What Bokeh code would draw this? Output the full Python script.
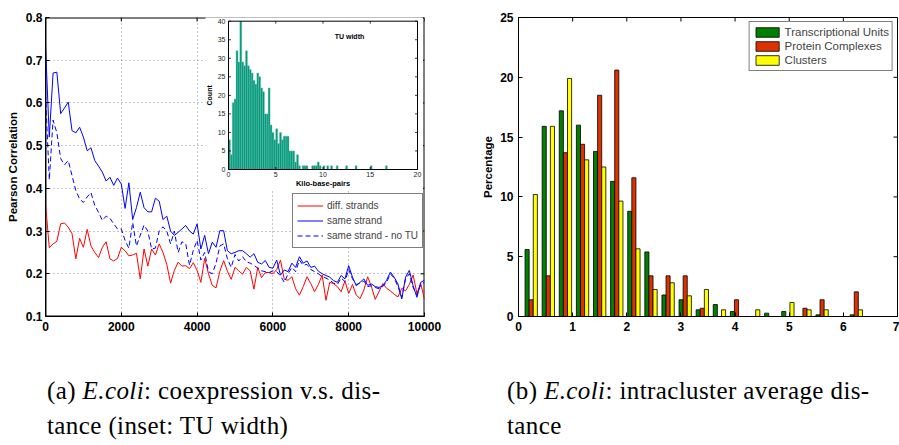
import math
from bokeh.plotting import figure
from bokeh.models import Range1d, FixedTicker, Legend, LegendItem, Label, Div
from bokeh.layouts import row, column
from bokeh.embed import file_html
from bokeh.resources import INLINE
from bokeh.core.properties import value

# ------------------------------------------------------------------ data
base_pairs = [i * 100 for i in range(101)]

diff_strands = [
    0.364, 0.261, 0.270, 0.276, 0.317, 0.319, 0.309, 0.294, 0.235, 0.283,
    0.262, 0.304, 0.265, 0.250, 0.238, 0.262, 0.275, 0.235, 0.230, 0.236,
    0.262, 0.254, 0.242, 0.244, 0.248, 0.188, 0.258, 0.218, 0.258, 0.244,
    0.270, 0.250, 0.222, 0.178, 0.208, 0.227, 0.218, 0.219, 0.212, 0.226,
    0.208, 0.180, 0.236, 0.200, 0.173, 0.167, 0.206, 0.231, 0.206, 0.187,
    0.215, 0.207, 0.199, 0.215, 0.207, 0.164, 0.215, 0.191, 0.203, 0.203,
    0.200, 0.210, 0.232, 0.187, 0.185, 0.193, 0.165, 0.150, 0.170, 0.193,
    0.177, 0.158, 0.175, 0.197, 0.138, 0.180, 0.177, 0.170, 0.158, 0.183,
    0.154, 0.175, 0.150, 0.142, 0.162, 0.193, 0.170, 0.140, 0.158, 0.177,
    0.166, 0.160, 0.152, 0.146, 0.166, 0.160, 0.175, 0.197, 0.154, 0.177,
    0.140]

same_strand = [
    0.735, 0.520, 0.670, 0.672, 0.575, 0.588, 0.602, 0.535, 0.530, 0.543,
    0.520, 0.488, 0.495, 0.465, 0.452, 0.438, 0.417, 0.426, 0.407, 0.424,
    0.410, 0.353, 0.413, 0.327, 0.355, 0.391, 0.355, 0.345, 0.345, 0.377,
    0.370, 0.327, 0.335, 0.300, 0.290, 0.297, 0.305, 0.313, 0.300, 0.293,
    0.317, 0.258, 0.290, 0.247, 0.274, 0.262, 0.301, 0.301, 0.254, 0.247,
    0.250, 0.254, 0.254, 0.247, 0.239, 0.247, 0.227, 0.223, 0.231, 0.215,
    0.213, 0.232, 0.197, 0.209, 0.205, 0.225, 0.215, 0.240, 0.225, 0.230,
    0.215, 0.218, 0.206, 0.200, 0.196, 0.192, 0.184, 0.180, 0.196, 0.188,
    0.219, 0.192, 0.172, 0.180, 0.188, 0.173, 0.176, 0.170, 0.168, 0.172,
    0.185, 0.204, 0.192, 0.176, 0.141, 0.192, 0.208, 0.172, 0.145, 0.180,
    0.185]

same_strand_no_tu = [
    0.620, 0.420, 0.560, 0.530, 0.470, 0.455, 0.465, 0.430, 0.395, 0.375,
    0.367, 0.380, 0.390, 0.360, 0.344, 0.325, 0.335, 0.330, 0.317, 0.305,
    0.305, 0.278, 0.260, 0.320, 0.265, 0.290, 0.314, 0.300, 0.258, 0.260,
    0.300, 0.310, 0.300, 0.270, 0.300, 0.250, 0.275, 0.270, 0.220, 0.255,
    0.278, 0.232, 0.250, 0.205, 0.200, 0.225, 0.265, 0.270, 0.235, 0.215,
    0.245, 0.230, 0.240, 0.228, 0.225, 0.220, 0.213, 0.207, 0.205, 0.203,
    0.207, 0.205, 0.195, 0.180, 0.200, 0.215, 0.205, 0.232, 0.220, 0.222,
    0.210, 0.205, 0.200, 0.193, 0.190, 0.185, 0.178, 0.175, 0.190, 0.182,
    0.210, 0.188, 0.175, 0.178, 0.183, 0.170, 0.172, 0.168, 0.165, 0.170,
    0.180, 0.200, 0.190, 0.170, 0.145, 0.188, 0.200, 0.168, 0.150, 0.175,
    0.180]

x_ticks_bp = [0, 2000, 4000, 6000, 8000, 10000]
y_ticks_corr = [0.1, 0.2, 0.3, 0.4, 0.5, 0.6, 0.7, 0.8]

# inset: TU width histogram (bins of 0.2 kbp starting at 0)
tu_bin_width_kbp = 0.2
tu_width_counts = [
    8, 4, 18, 19, 32, 29, 40, 29, 28, 32,
    28, 27, 26, 24, 23, 26, 25, 22, 21, 15,
    15, 22, 12, 10, 8, 11, 7, 10, 8, 9,
    9, 9, 5, 5, 5, 2, 4, 1, 0, 1,
    1, 1, 0, 0, 1, 1, 1, 2, 1, 0,
    1, 0, 1, 0, 1, 0, 0, 1, 0, 0,
    0, 0, 1, 0, 0, 0, 0, 1, 0, 0,
    0, 0, 0, 0, 0, 1, 0, 0, 0, 0,
    0, 0, 0, 1]
inset_x_ticks = [0, 5, 10, 15, 20]
inset_y_ticks = [0, 5, 10, 15, 20, 25, 30, 35, 40]

# right: intracluster average distance
dist_bins_kbp = [0.235, 0.551, 0.867, 1.183, 1.499, 1.815, 2.131, 2.447, 2.763, 3.079,
                 3.395, 3.711, 4.027, 4.343, 4.659, 4.975, 5.291, 5.607, 5.923, 6.239]
pct_transcriptional_units = [5.6, 15.9, 17.2, 16.0, 13.8, 11.3, 8.8, 5.4, 1.8, 1.4,
                             0.56, 1.0, 0.42, 0.0, 0.28, 0.42, 0.0, 0.14, 0.0, 0.14]
pct_protein_complexes = [1.4, 3.4, 13.7, 14.4, 18.5, 20.6, 11.6, 3.4, 3.4, 3.4,
                         0.69, 0.0, 1.4, 0.0, 0.0, 0.0, 0.69, 1.4, 0.0, 2.06]
pct_clusters = [10.2, 15.9, 19.9, 13.1, 12.5, 9.65, 5.66, 2.26, 2.82, 1.73,
                2.26, 0.56, 0.0, 0.56, 0.0, 1.17, 0.56, 0.56, 0.0, 0.56]
right_x_ticks = [0, 1, 2, 3, 4, 5, 6, 7]
right_y_ticks = [0, 5, 10, 15, 20, 25]

FONT = "Liberation Sans"
SERIF = "Liberation Serif"


def style_axes(p, xt, yt):
    p.xaxis.ticker = FixedTicker(ticks=xt)
    p.yaxis.ticker = FixedTicker(ticks=yt)
    for ax in (p.xaxis[0], p.yaxis[0]):
        ax.major_tick_in = 4
        ax.major_tick_out = 0
        ax.minor_tick_in = 0
        ax.minor_tick_out = 0
        ax.axis_line_color = "black"
        ax.major_tick_line_color = "black"
        ax.major_label_text_font = FONT
        ax.major_label_text_font_style = "bold"
        ax.major_label_text_font_size = "12px"
        ax.major_label_text_color = "black"
        ax.axis_label_text_font = FONT
        ax.axis_label_text_font_style = "bold"
        ax.axis_label_text_font_size = "11.5px"
        ax.axis_label_text_color = "black"
    p.outline_line_color = "black"
    p.outline_line_alpha = 1.0
    p.outline_line_width = 1
    p.background_fill_color = "white"
    p.border_fill_color = "white"


# ------------------------------------------------------------------ left plot
LB_L, LB_R, LB_T, LB_B = 45, 46, 17, 29
FW, FH = 379, 299
LW, LH = LB_L + FW + LB_R, LB_T + FH + LB_B     # 470 x 345

left = figure(width=LW, height=LH, x_range=Range1d(0, 10000), y_range=Range1d(0.1, 0.8),
              output_backend="svg", toolbar_location=None,
              min_border_left=LB_L, min_border_right=LB_R,
              min_border_top=LB_T, min_border_bottom=LB_B)
style_axes(left, x_ticks_bp, y_ticks_corr)
left.outline_line_color = None
left.yaxis.axis_label = "Pearson Correlation"
left.yaxis.major_label_standoff = 3
left.yaxis.axis_label_standoff = 4
left.xaxis.major_label_standoff = 5
for g in (left.xgrid[0], left.ygrid[0]):
    g.grid_line_color = "#8a8a8a"
    g.grid_line_dash = "1 3"
    g.grid_line_width = 1

px_x = 10000 / FW
px_y = 0.7 / FH
# frame box drawn as a glyph so that the inset can cover part of it
left.quad(left=[x_ticks_bp[0]], right=[x_ticks_bp[-1]], bottom=[y_ticks_corr[0]],
          top=[y_ticks_corr[-1]], fill_color=None, line_color="black", line_width=2)
# inward ticks on top and right borders
left.segment(x0=x_ticks_bp, y0=[0.8] * len(x_ticks_bp), x1=x_ticks_bp,
             y1=[0.8 - 4 * px_y] * len(x_ticks_bp), line_color="black", line_width=1)
left.segment(x0=[10000] * len(y_ticks_corr), y0=y_ticks_corr,
             x1=[10000 - 4 * px_x] * len(y_ticks_corr), y1=y_ticks_corr,
             line_color="black", line_width=1)

r_red = left.line(base_pairs, diff_strands, line_color="#ff0000", line_width=1)
r_blue = left.line(base_pairs, same_strand, line_color="#0000ff", line_width=1)
r_dash = left.line(base_pairs, same_strand_no_tu, line_color="#0000ff", line_width=1,
                   line_dash="5 3")

left.add_layout(Label(x=5000, y=0.1 - 18 * px_y, text="Base-pairs", text_align="center",
                      text_baseline="middle", text_font=FONT, text_font_style="bold",
                      text_font_size="11.5px", text_color="black"))

# ---- inset (TU width) drawn through extra ranges mapped onto a sub-box of the frame
IN_L, IN_R, IN_T, IN_B = 183, 372, 3.7, 152          # inset frame box in frame pixels
kx = (inset_x_ticks[-1] - inset_x_ticks[0]) / (IN_R - IN_L)
ky = (inset_y_ticks[-1] - inset_y_ticks[0]) / (IN_B - IN_T)
left.extra_x_ranges = {"ix": Range1d(-IN_L * kx, (FW - IN_L) * kx)}
left.extra_y_ranges = {"iy": Range1d(-(FH - IN_B) * ky, 40 + IN_T * ky)}
IX = dict(x_range_name="ix", y_range_name="iy")

# white background behind inset + its labels (covers the top border, not the right one)
left.quad(left=[(160 - IN_L) * kx], right=[(FW - 1.5 - IN_L) * kx],
          bottom=[-(173 - IN_B) * ky], top=[40 + IN_T * ky + 1],
          fill_color="white", line_color=None, **IX)

bl = [i * tu_bin_width_kbp for i, c in enumerate(tu_width_counts) if c > 0]
bt = [c for c in tu_width_counts if c > 0]
left.quad(left=bl, right=[b + tu_bin_width_kbp for b in bl], bottom=[0] * len(bl), top=bt,
          fill_color="#00967a", line_color="#5fc2a9", line_width=0.4, **IX)
left.quad(left=[inset_x_ticks[0]], right=[inset_x_ticks[-1]], bottom=[inset_y_ticks[0]],
          top=[inset_y_ticks[-1]], fill_color=None, line_color="black", line_width=1, **IX)
tkx, tky = 2.5 * kx, 2.5 * ky
for yb, ye in ((0, tky), (40, 40 - tky)):
    left.segment(x0=inset_x_ticks, x1=inset_x_ticks, y0=[yb] * 5, y1=[ye] * 5,
                 line_color="black", line_width=0.8, **IX)
for xb, xe in ((0, tkx), (20, 20 - tkx)):
    left.segment(x0=[xb] * 9, x1=[xe] * 9, y0=inset_y_ticks, y1=inset_y_ticks,
                 line_color="black", line_width=0.8, **IX)
left.text(x=[-3 * kx] * len(inset_y_ticks), y=inset_y_ticks,
          text=[str(t) for t in inset_y_ticks], text_align="right", text_baseline="middle",
          text_font=value(FONT), text_font_size="7px", text_color="#222222", **IX)
left.text(x=inset_x_ticks, y=[-2.5 * ky] * len(inset_x_ticks),
          text=[str(t) for t in inset_x_ticks], text_align="center", text_baseline="top",
          text_font=value(FONT), text_font_size="7px", text_color="#222222", **IX)
left.text(x=[10], y=[-14 * ky], text=["Kilo-base-pairs"], text_align="center",
          text_baseline="middle", text_font=value(FONT), text_font_style="bold",
          text_font_size="7.5px", text_color="black", **IX)
left.text(x=[-19 * kx], y=[20], text=["Count"], angle=math.pi / 2, text_align="center",
          text_baseline="middle", text_font=value(FONT), text_font_style="bold",
          text_font_size="7px", text_color="black", **IX)
left.text(x=[12.8], y=[35.9], text=["TU width"], text_align="center",
          text_baseline="middle", text_font=value(FONT), text_font_style="bold",
          text_font_size="7px", text_color="black", **IX)

leg_l = Legend(items=[LegendItem(label="diff. strands", renderers=[r_red]),
                      LegendItem(label="same strand", renderers=[r_blue]),
                      LegendItem(label="same strand - no TU", renderers=[r_dash])],
               location=(247, 68), margin=0, padding=4, spacing=0,
               glyph_width=26, glyph_height=15, label_height=15, label_standoff=4,
               label_text_font=FONT, label_text_font_size="10px",
               border_line_color="black", border_line_width=1, background_fill_alpha=1)
left.add_layout(leg_l)

# ------------------------------------------------------------------ right plot
RB_L, RB_R = 48, 2
RFW = 379
RW, RH = RB_L + RFW + RB_R, LH
right = figure(width=RW, height=RH, x_range=Range1d(0, 7), y_range=Range1d(0, 25),
               output_backend="svg", toolbar_location=None,
               min_border_left=RB_L, min_border_right=RB_R,
               min_border_top=LB_T, min_border_bottom=LB_B)
style_axes(right, right_x_ticks, right_y_ticks)
right.grid.visible = False
right.yaxis.axis_label = "Percentage"
right.yaxis.axis_label_standoff = 3
right.xaxis.major_label_standoff = 5

rpx = 7 / RFW
rpy = 25 / FH
right.segment(x0=right_x_ticks, x1=right_x_ticks, y0=[25] * 8, y1=[25 - 4 * rpy] * 8,
              line_color="black", line_width=1)
right.segment(x0=[7] * 6, x1=[7 - 4 * rpx] * 6, y0=right_y_ticks, y1=right_y_ticks,
              line_color="black", line_width=1)

BW = 0.076
series = [("Transcriptional Units", pct_transcriptional_units, "#007f00", -BW),
          ("Protein Complexes", pct_protein_complexes, "#dc3200", 0.0),
          ("Clusters", pct_clusters, "#ffff00", BW)]
items = []
for name, vals, col, off in series:
    xs = [c + off for c, v in zip(dist_bins_kbp, vals) if v > 0]
    ys = [v for v in vals if v > 0]
    r = right.vbar(x=xs, top=ys, bottom=0, width=BW, fill_color=col,
                   line_color="black", line_width=0.8)
    items.append(LegendItem(label=name, renderers=[r]))

right.add_layout(Label(x=1.13, y=-22 * rpy, text="Kilo-base-pairs", text_align="center",
                       text_baseline="middle", text_font=FONT, text_font_style="bold",
                       text_font_size="11.5px", text_color="black"))

leg_r = Legend(items=items, location="top_right", margin=4, padding=3, spacing=0,
               glyph_width=29, glyph_height=12, label_height=14, label_standoff=3,
               label_text_font=FONT, label_text_font_size="11.5px",
               border_line_color="black", border_line_width=1, background_fill_alpha=1)
right.add_layout(leg_r)

# ------------------------------------------------------------------ captions
cap_style = (f"font-family:'{SERIF}',serif;font-size:25px;line-height:35px;"
             "letter-spacing:0.4px;color:#000;white-space:nowrap;margin:0;")
cap_a = Div(text=f'<div style="{cap_style}padding:28px 0 0 47px;">(a) <i>E.coli</i>: '
                 'coexpression v.s. dis-<br>tance (inset: TU width)</div>',
            width=LW, height=100, margin=0)
cap_b = Div(text=f'<div style="{cap_style}padding:28px 0 0 37px;">(b) <i>E.coli</i>: '
                 'intracluster average dis-<br>tance</div>',
            width=RW, height=100, margin=0)

layout = column(row(left, right), row(cap_a, cap_b))
open("out.html", "w").write(file_html(layout, INLINE))
